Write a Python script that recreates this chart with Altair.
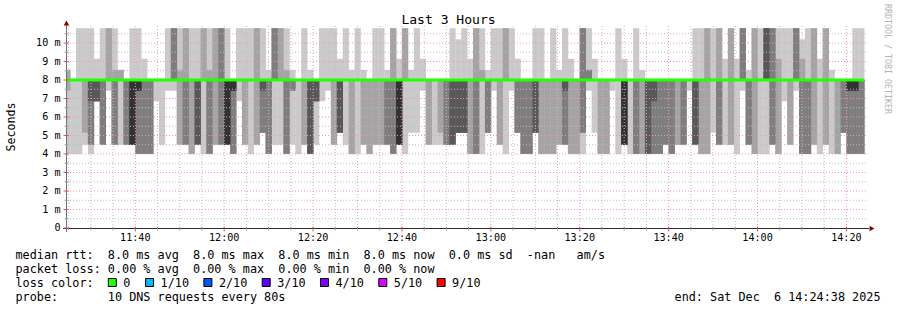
import altair as alt
import pandas as pd

# ---------------- data ----------------
# sorted RTTs (ms) of the 10 DNS requests of every 80 s step, oldest step first
pings_ms = [
    [4.0, 7.42, 8, 8, 8, 8, 8, 8, 8.55, 8.55],
    [4.0, 8, 8, 8, 8, 8, 8, 8, 8, 8],
    [4.0, 8, 8, 8, 8, 8, 8, 8, 8, 10.8],
    [4.5, 5.15, 8, 8, 8, 8, 8, 8, 8, 10.8],
    [4.0, 4.5, 4.5, 6.85, 8, 8, 8, 8, 8, 10.8],
    [6.85, 6.85, 6.85, 6.85, 8, 8, 8, 8, 8, 9.15],
    [4.5, 4.5, 4.5, 8, 8, 8, 8, 8, 8, 10.8],
    [7.42, 8, 8, 8, 8, 8, 8, 8, 10.8, 10.8],
    [4.5, 4.5, 4.5, 8, 8, 8, 8, 8, 8.55, 10.8],
    [4.5, 8, 8, 8, 8, 8, 8, 8, 8.55, 8.55],
    [4.5, 4.5, 4.5, 8, 8, 8, 8, 8, 8, 8],
    [4.5, 4.5, 4.5, 4.5, 4.5, 8, 8, 8, 8, 10.8],
    [4.0, 4.0, 4.0, 7.42, 7.42, 8, 8, 8, 8, 10.8],
    [4.0, 4.0, 4.0, 8, 8, 8, 8, 8, 8, 9.15],
    [4.0, 4.0, 4.0, 8, 8, 8, 8, 8, 8, 8],
    [6.85, 8, 8, 8, 8, 8, 8, 8, 8, 8],
    [4.5, 8, 8, 8, 8, 8, 8, 8, 8, 8],
    [7.42, 8, 8, 8, 8, 8, 8, 8, 8, 10.8],
    [7.42, 8, 8, 8, 8, 8, 8, 10.8, 10.8, 10.8],
    [4.5, 4.5, 8, 8, 8, 8, 8, 8, 8.55, 10.8],
    [4.5, 4.5, 4.5, 8, 8, 8, 8, 8, 10.8, 10.8],
    [4.0, 4.0, 8, 8, 8, 8, 8, 8, 8, 10.8],
    [4.5, 4.5, 4.5, 4.5, 8, 8, 8, 8, 8, 10.8],
    [4.0, 8, 8, 8, 8, 8, 8, 8, 10.8, 10.8],
    [4.0, 4.0, 4.0, 8, 8, 8, 8, 8, 8.55, 10.8],
    [4.5, 4.5, 8, 8, 8, 8, 8, 8, 10.8, 10.8],
    [4.5, 4.5, 4.5, 8, 8, 8, 8, 10.8, 10.8, 10.8],
    [4.5, 4.5, 4.5, 4.5, 4.5, 8, 8, 8, 8, 10.8],
    [4.0, 4.0, 4.0, 7.42, 7.42, 8, 8, 8, 8, 8],
    [6.85, 8, 8, 8, 8, 8, 8, 8, 8, 10.8],
    [4.5, 4.5, 8, 8, 8, 8, 8, 8, 8, 10.8],
    [4.0, 8, 8, 8, 8, 8, 8, 8, 8, 10.8],
    [4.5, 4.5, 8, 8, 8, 8, 8, 8, 10.8, 10.8],
    [5.15, 5.15, 5.15, 7.42, 8, 8, 8, 8, 8, 10.8],
    [4.0, 4.0, 4.0, 8, 8, 8, 8, 8, 8, 8.55],
    [4.5, 8, 8, 8, 8, 8, 8, 10.8, 10.8, 10.8],
    [4.5, 8, 8, 8, 8, 8, 8, 8, 10.8, 10.8],
    [4.0, 4.0, 4.0, 8, 8, 8, 8, 8, 8.55, 10.8],
    [4.5, 7.42, 7.42, 8, 8, 8, 8, 8, 8, 8.55],
    [4.0, 8, 8, 8, 8, 8, 8, 8, 8, 8],
    [4.5, 4.5, 8, 8, 8, 8, 8, 8, 8, 10.8],
    [4.0, 4.0, 4.0, 4.0, 8, 8, 8, 8, 8, 8.55],
    [4.5, 6.85, 6.85, 6.85, 8, 8, 8, 8, 8, 8],
    [6.85, 8, 8, 8, 8, 8, 8, 8, 8, 10.8],
    [7.42, 8, 8, 8, 8, 8, 8, 8, 8, 10.8],
    [4.5, 4.5, 8, 8, 8, 8, 8, 8, 8, 10.8],
    [5.15, 5.15, 5.15, 5.15, 8, 8, 8, 8, 8, 9.15],
    [4.5, 8, 8, 8, 8, 8, 8, 8, 8, 10.8],
    [4.0, 4.0, 8, 8, 8, 8, 8, 8, 8, 8.55],
    [4.0, 8, 8, 8, 8, 8, 8, 8, 8, 10.8],
    [4.5, 4.5, 8, 8, 8, 8, 8, 8, 8, 8.55],
    [4.0, 4.0, 8, 8, 8, 8, 8, 8, 8, 8],
    [4.5, 4.5, 8, 8, 8, 8, 8, 8, 8, 10.8],
    [4.5, 4.5, 8, 8, 8, 8, 8, 8, 8, 10.8],
    [4.5, 4.5, 4.5, 8, 8, 8, 8, 8, 8, 8.55],
    [4.0, 4.0, 4.0, 8, 8, 8, 8, 8, 10.8, 10.8],
    [4.5, 4.5, 4.5, 4.5, 4.5, 8, 8, 8, 8, 9.15],
    [4.0, 8, 8, 8, 8, 8, 8, 8, 10.8, 10.8],
    [5.15, 8, 8, 8, 8, 8, 8, 8, 8, 8.55],
    [5.15, 8, 8, 8, 8, 8, 8, 8, 8, 10.8],
    [7.42, 8, 8, 8, 8, 8, 8, 8, 8, 9.15],
    [4.5, 4.5, 8, 8, 8, 8, 8, 8, 8, 8],
    [4.5, 8, 8, 8, 8, 8, 8, 8, 8, 8],
    [4.5, 5.15, 8, 8, 8, 8, 8, 8, 8, 8],
    [4.5, 4.5, 4.5, 8, 8, 8, 8, 8, 8, 8],
    [4.5, 4.5, 4.5, 4.5, 8, 8, 8, 8, 8, 10.8],
    [5.15, 5.15, 5.15, 5.15, 8, 8, 8, 8, 8, 10.2],
    [5.15, 5.15, 5.15, 5.15, 8, 8, 8, 8, 8, 10.8],
    [4.0, 4.0, 8, 8, 8, 8, 8, 8, 8, 9.15],
    [4.0, 4.0, 4.0, 8, 8, 8, 8, 8, 10.8, 10.8],
    [4.0, 8, 8, 8, 8, 8, 8, 8, 8.55, 10.8],
    [5.15, 5.15, 5.15, 8, 8, 8, 8, 8, 8, 8.55],
    [7.42, 8, 8, 8, 8, 8, 8, 8, 8, 10.8],
    [4.5, 4.5, 8, 8, 8, 8, 8, 8, 8, 10.8],
    [4.0, 8, 8, 8, 8, 8, 8, 8, 10.8, 10.8],
    [7.42, 8, 8, 8, 8, 8, 8, 8, 8, 10.8],
    [5.15, 5.15, 5.15, 8, 8, 8, 8, 8, 8, 9.15],
    [4.0, 4.0, 4.0, 8, 8, 8, 8, 8, 8, 8],
    [4.0, 4.0, 4.0, 8, 8, 8, 8, 8, 8, 8],
    [5.15, 5.15, 5.15, 5.15, 8, 8, 8, 8, 8, 10.8],
    [4.0, 4.0, 8, 8, 8, 8, 8, 8, 8, 10.8],
    [4.0, 4.0, 8, 8, 8, 8, 8, 8, 8, 8],
    [4.0, 4.0, 8, 8, 8, 8, 8, 8, 8, 10.8],
    [4.5, 4.5, 8, 8, 8, 8, 8, 8, 8, 8.55],
    [4.5, 4.5, 4.5, 7.42, 8, 8, 8, 8, 8, 10.8],
    [4.0, 4.0, 8, 8, 8, 8, 8, 8, 8, 9.15],
    [4.0, 4.0, 8, 8, 8, 8, 8, 8, 8, 8],
    [4.0, 5.15, 5.15, 8, 8, 8, 8, 10.8, 10.8, 10.8],
    [7.42, 8, 8, 8, 8, 8, 8, 8.55, 8.55, 10.8],
    [5.15, 8, 8, 8, 8, 8, 8, 8, 8, 9.15],
    [4.0, 4.0, 8, 8, 8, 8, 8, 8, 8, 8],
    [4.0, 4.0, 8, 8, 8, 8, 8, 8, 8, 8],
    [7.42, 8, 8, 8, 8, 8, 8, 8, 8, 8],
    [4.0, 8, 8, 8, 8, 8, 8, 8, 8, 10.8],
    [4.5, 4.5, 4.5, 4.5, 4.5, 8, 8, 8, 8, 9.15],
    [4.0, 8, 8, 8, 8, 8, 8, 8, 8, 8],
    [4.0, 4.0, 4.0, 8, 8, 8, 8, 8, 8, 10.8],
    [4.0, 4.0, 8, 8, 8, 8, 8, 8, 8, 8.55],
    [4.0, 4.0, 4.0, 4.0, 8, 8, 8, 8, 8, 8],
    [4.0, 4.0, 4.0, 6.85, 8, 8, 8, 8, 8, 8],
    [4.0, 4.0, 4.0, 8, 8, 8, 8, 8, 8, 8],
    [4.5, 4.5, 4.5, 8, 8, 8, 8, 8, 8, 8],
    [4.0, 4.0, 4.0, 8, 8, 8, 8, 8, 8, 8],
    [4.5, 4.5, 8, 8, 8, 8, 8, 8, 8, 8],
    [4.5, 4.5, 4.5, 8, 8, 8, 8, 8, 8, 8],
    [7.42, 8, 8, 8, 8, 8, 8, 8, 8, 8],
    [4.5, 4.5, 4.5, 4.5, 8, 8, 8, 8, 8, 10.8],
    [4.0, 4.0, 8, 8, 8, 8, 8, 8, 8, 10.8],
    [4.0, 4.0, 8, 8, 8, 8, 8, 8, 10.8, 10.8],
    [5.15, 8, 8, 8, 8, 8, 8, 8, 8, 10.8],
    [4.5, 4.5, 4.5, 8, 8, 8, 8, 8, 10.8, 10.8],
    [4.5, 8, 8, 8, 8, 8, 8, 8, 8, 9.15],
    [4.5, 4.5, 8, 8, 8, 8, 8, 8, 10.8, 10.8],
    [4.0, 8, 8, 8, 8, 8, 8, 8, 8, 9.15],
    [7.42, 8, 8, 8, 8, 8, 8, 10.8, 10.8, 10.8],
    [4.5, 4.5, 4.5, 8, 8, 8, 8, 8, 8, 8.55],
    [4.0, 4.0, 8, 8, 8, 8, 8, 8, 10.8, 10.8],
    [4.0, 8, 8, 8, 8, 8, 8, 8, 8, 10.8],
    [4.0, 8, 8, 8, 8, 8, 10.8, 10.8, 10.8, 10.8],
    [4.5, 4.5, 4.5, 8, 8, 8, 8, 10.8, 10.8, 10.8],
    [4.0, 4.0, 8, 8, 8, 8, 8, 8, 9.15, 10.8],
    [6.85, 8, 8, 8, 8, 8, 8, 8, 8, 10.8],
    [4.5, 4.5, 8, 8, 8, 8, 8, 8, 8, 10.8],
    [7.42, 8, 8, 8, 8, 8, 8, 10.8, 10.8, 10.8],
    [4.0, 4.0, 4.0, 8, 8, 8, 8, 8, 9.15, 10.2],
    [4.0, 4.0, 4.0, 8, 8, 8, 8, 8, 8, 10.8],
    [4.5, 4.5, 8, 8, 8, 8, 8, 8, 10.8, 10.8],
    [4.0, 8, 8, 8, 8, 8, 8, 8, 8, 9.15],
    [4.5, 4.5, 8, 8, 8, 8, 8, 8, 10.8, 10.8],
    [4.0, 8, 8, 8, 8, 8, 8, 8, 8, 8.55],
    [4.0, 4.0, 8, 8, 8, 8, 8, 8, 8, 8],
    [5.15, 5.15, 5.15, 8, 8, 8, 8, 8, 8, 8],
    [4.0, 4.0, 4.0, 7.42, 7.42, 8, 8, 8, 8, 8],
    [4.0, 4.0, 4.0, 7.42, 7.42, 8, 8, 8, 8, 10.8],
    [4.0, 4.0, 4.0, 8, 8, 8, 8, 8, 8, 10.8],
]
# median RTT of each step (the 6th of the 10 sorted values)
median_ms = [p[5] for p in pings_ms]

y_tick_values = [0, 1, 2, 3, 4, 5, 6, 7, 8, 9, 10]
x_tick_minutes = [700, 720, 740, 760, 780, 800, 820, 840, 860]
x_tick_labels = ["11:40", "12:00", "12:20", "12:40", "13:00", "13:20", "13:40", "14:00", "14:20"]

loss_labels = ["0", "1/10", "2/10", "3/10", "4/10", "5/10", "9/10"]
loss_colors = ["#26ff00", "#00b8ff", "#0059ff", "#5e00ff", "#7e00ff", "#dd00ff", "#ff0000"]

title_text = "Last 3 Hours"
y_title = "Seconds"
legend_lines = [
    "median rtt:  8.0 ms avg  8.0 ms max  8.0 ms min  8.0 ms now  0.0 ms sd  -nan   am/s",
    "packet loss: 0.00 % avg  0.00 % max  0.00 % min  0.00 % now",
    "loss color:",
    "probe:       10 DNS requests every 80s",
]
end_text = "end: Sat Dec  6 14:24:38 2025"
watermark = "RRDTOOL / TOBI OETIKER"

# ---------------- layout ----------------
MONO = "DejaVu Sans Mono"
W, H = 800, 202
PAD_L, PAD_T = 67, 26
X0, X1 = 684.633, 864.633        # 11:24:38 .. 14:24:38, minutes since midnight
Y0, Y1 = 0.0, 10.92
STEP = 80 / 60                    # 80 s per step
n = len(pings_ms)
last_end = 864.0
col_start = [X0] + [last_end - (n - 1 - k) * STEP for k in range(n - 1)]
col_end = col_start[1:] + [last_end]

shades = ["#cacaca", "#a4a4a4", "#7e7e7e", "#585858", "#323232"]

xs = alt.Scale(domain=[X0, X1], nice=False, zero=False)
ys = alt.Scale(domain=[Y0, Y1], nice=False, zero=False)

rows = []
for c, p in enumerate(pings_ms):
    for j in range(5):
        rows.append({"t0": col_start[c], "t1": min(col_end[c] + 0.07, X1),
                     "lo": p[j], "hi": p[9 - j], "layer": j})
smoke_df = pd.DataFrame(rows)

layers = []
for j in range(5):
    layers.append(
        alt.Chart(smoke_df[smoke_df.layer == j]).mark_rect(color=shades[j]).encode(
            x=alt.X("t0:Q", scale=xs, axis=None), x2="t1",
            y=alt.Y("lo:Q", scale=ys, axis=None), y2="hi")
    )

# grid
minor_v = pd.DataFrame({"t": [m for m in range(685, 865, 5) if m % 20 != 0]})
major_v = pd.DataFrame({"t": x_tick_minutes})
minor_h = pd.DataFrame({"v": [v + 0.5 for v in range(11)]})
major_h = pd.DataFrame({"v": y_tick_values[1:]})

GRID_MINOR = "#bdbdbd"
GRID_MAJOR = "#f29a9a"
layers.append(alt.Chart(minor_v).mark_rule(color=GRID_MINOR, strokeDash=[1, 2], strokeWidth=1).encode(
    x=alt.X("t:Q", scale=xs, axis=None), y=alt.value(0), y2=alt.value(H)))
layers.append(alt.Chart(minor_h).mark_rule(color=GRID_MINOR, strokeDash=[1, 2], strokeWidth=1).encode(
    y=alt.Y("v:Q", scale=ys, axis=None), x=alt.value(0), x2=alt.value(W)))
layers.append(alt.Chart(major_v).mark_rule(color=GRID_MAJOR, strokeDash=[1, 2], strokeWidth=1).encode(
    x=alt.X("t:Q", scale=xs, axis=None), y=alt.value(0), y2=alt.value(H)))
layers.append(alt.Chart(major_h).mark_rule(color=GRID_MAJOR, strokeDash=[1, 2], strokeWidth=1).encode(
    y=alt.Y("v:Q", scale=ys, axis=None), x=alt.value(0), x2=alt.value(W)))

# median line
med_df = pd.DataFrame({"t": col_start + [last_end], "m": median_ms + [median_ms[-1]]})
layers.append(alt.Chart(med_df).mark_line(color=loss_colors[0], strokeWidth=3, interpolate="step-after").encode(
    x=alt.X("t:Q", scale=xs, axis=None), y=alt.Y("m:Q", scale=ys, axis=None)))

# axis lines, ticks, arrows
AXIS = "#2c2c2c"
ARROW = "#8b0000"
one = pd.DataFrame({"a": [0]})
layers.append(alt.Chart(one).mark_rule(color=AXIS, strokeWidth=1).encode(
    x=alt.value(-4), x2=alt.value(W + 2), y=alt.value(H + 0.5)))
layers.append(alt.Chart(one).mark_rule(color="#707070", strokeWidth=1).encode(
    x=alt.value(-0.5), y=alt.value(H + 4), y2=alt.value(-1)))
layers.append(alt.Chart(minor_v).mark_rule(color="#a0a0a0", strokeWidth=1).encode(
    x=alt.X("t:Q", scale=xs, axis=None), y=alt.value(H - 1.5), y2=alt.value(H + 2.5)))
layers.append(alt.Chart(major_v).mark_rule(color="#e05050", strokeWidth=1).encode(
    x=alt.X("t:Q", scale=xs, axis=None), y=alt.value(H - 1.5), y2=alt.value(H + 3.5)))
layers.append(alt.Chart(minor_h).mark_rule(color="#a0a0a0", strokeWidth=1).encode(
    y=alt.Y("v:Q", scale=ys, axis=None), x=alt.value(-2.5), x2=alt.value(1.5)))
layers.append(alt.Chart(pd.DataFrame({"v": y_tick_values})).mark_rule(color="#e05050", strokeWidth=1).encode(
    y=alt.Y("v:Q", scale=ys, axis=None), x=alt.value(-3.5), x2=alt.value(1.5)))
layers.append(alt.Chart(one).mark_point(shape="triangle-up", filled=True, color=ARROW, size=32, opacity=1).encode(
    x=alt.value(-0.5), y=alt.value(-3)))
layers.append(alt.Chart(one).mark_point(shape="triangle-right", filled=True, color=ARROW, size=32, opacity=1).encode(
    x=alt.value(W + 5), y=alt.value(H + 0.5)))

# tick labels
NB = "\u00a0"
ylab_df = pd.DataFrame({"v": y_tick_values,
                        "lab": [("0" + NB + NB) if v == 0 else f"{v}{NB}m" for v in y_tick_values]})
layers.append(alt.Chart(ylab_df).mark_text(font=MONO, fontSize=10.15, align="right", baseline="middle",
                                           color="black").encode(
    y=alt.Y("v:Q", scale=ys, axis=None), x=alt.value(-6.5), text="lab:N"))
xlab_df = pd.DataFrame({"t": x_tick_minutes, "lab": x_tick_labels})
layers.append(alt.Chart(xlab_df).mark_text(font=MONO, fontSize=10.15, align="center", baseline="middle",
                                           color="black").encode(
    x=alt.X("t:Q", scale=xs, axis=None), y=alt.value(H + 10), text="lab:N"))

# titles
def txt(s, px, py, size, align="left", angle=0, color="black"):
    kw = dict(font=MONO, fontSize=size, align=align, baseline="middle", color=color)
    if angle:
        kw["angle"] = angle
    return alt.Chart(pd.DataFrame({"s": [s.replace(" ", NB)]})).mark_text(**kw).encode(
        x=alt.value(px - PAD_L), y=alt.value(py - PAD_T), text="s:N")

LEG = 11.8
layers.append(txt(title_text, 448.5, 20, 13.05, align="center"))
layers.append(txt(y_title, 11.5, 127, 11.6, align="center", angle=270))
layers.append(txt(watermark, 887, 59, 8.3, align="center", angle=90, color="#b4b4b4"))
for i, line in enumerate(legend_lines):
    layers.append(txt(line, 15.5, 254.5 + 14 * i, LEG))
layers.append(txt(end_text, 880.5, 296.5, LEG, align="right"))

# loss colour legend boxes
box_x, text_x = [], []
bx = 108.3
for lab in loss_labels:
    box_x.append(bx)
    text_x.append(bx + 15)
    bx = bx + 15 + 7.0 * len(lab) + 15.3
box_df = pd.DataFrame({"x1": [b - PAD_L for b in box_x], "x2": [b - PAD_L + 8 for b in box_x],
                       "y1": [278.5 - PAD_T] * len(box_x), "y2": [286.5 - PAD_T] * len(box_x),
                       "c": loss_colors})
layers.append(alt.Chart(box_df).mark_rect(stroke="black", strokeWidth=1).encode(
    x=alt.X("x1:Q", scale=None), x2="x2", y=alt.Y("y1:Q", scale=None), y2="y2",
    fill=alt.Fill("c:N", scale=None)))
lab_df = pd.DataFrame({"x": [t - PAD_L for t in text_x], "s": loss_labels})
layers.append(alt.Chart(lab_df).mark_text(font=MONO, fontSize=LEG, align="left", baseline="middle",
                                          color="black").encode(
    x=alt.X("x:Q", scale=None), y=alt.value(282.5 - PAD_T), text="s:N"))

chart = alt.layer(*layers).properties(
    width=W, height=H,
    padding={"left": PAD_L, "top": PAD_T, "right": 897 - PAD_L - W, "bottom": 310 - PAD_T - H},
    autosize=alt.AutoSizeParams(type="none"),
    background="white",
).configure_view(stroke=None)

chart.save("out.html", embed_options={"renderer": "svg", "actions": False})
